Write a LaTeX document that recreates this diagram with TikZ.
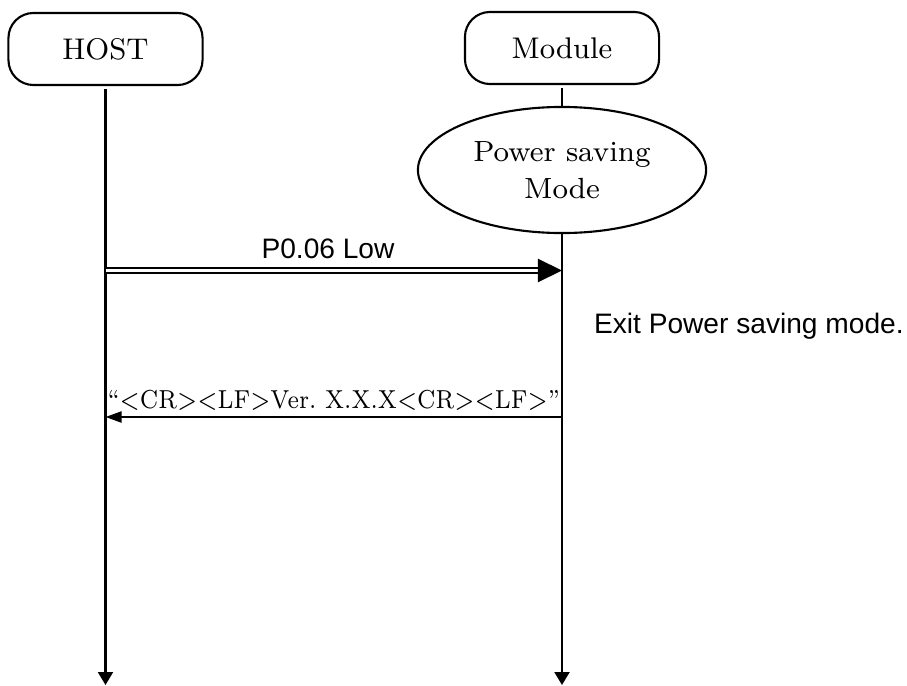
\documentclass[tikz,border=0pt]{standalone}
\usepackage{fontspec}
\newfontfamily\msgfont{Liberation Sans}
\usetikzlibrary{arrows.meta,shapes.geometric}

\begin{document}
\begin{tikzpicture}[x=0.01cm,y=-0.01cm,line width=0.6pt,
  entity/.style={draw,rounded corners=0.25cm,minimum width=1.94cm,minimum height=0.72cm,inner sep=0pt,font=\fontsize{8.5}{10}\selectfont},
  state/.style={draw,ellipse,minimum width=2.88cm,minimum height=1.26cm,inner sep=0pt,align=center,font=\fontsize{8.3}{10.5}\selectfont},
  life/.style={-{Triangle[length=0.13cm,width=0.15cm]}},
  msg/.style={font=\msgfont\fontsize{8}{9.6}\selectfont,inner sep=0pt}]
  \useasboundingbox (0,0) rectangle (907,685);
  \node[entity] (host) at (105.5,49) {HOST};
  \node[entity] (module) at (562,48) {Module};
  \node[state] (psm) at (562,170) {Power saving\\Mode};
  \coordinate (hostend) at (105.5,685);
  \coordinate (modend) at (562,685);
  \coordinate (h1) at (105.5,270.5);
  \coordinate (m1) at (562,270.5);
  \coordinate (h2) at (105.5,417);
  \coordinate (m2) at (562,417);
  \draw[life,shorten <=0.03cm] (host.south) -- (hostend);
  \draw[shorten <=0.03cm] (module.south) -- (psm.north);
  \draw[life] (psm.south) -- (modend);
  \draw[double,double distance=0.03cm,line width=0.02cm,-{Triangle[length=0.24cm,width=0.23cm]}] (h1) -- (m1);
  \node[msg,anchor=base] (lowlbl) at (328,258) {P0.06 Low};
  \node[msg,anchor=base west] (exitlbl) at (593,333) {Exit Power saving mode.};
  \draw[-{Triangle[length=0.16cm,width=0.11cm]}] (m2) -- (h2);
  \node[anchor=base,inner sep=0pt,font=\fontsize{7.4}{8.6}\selectfont\frenchspacing] (verlbl) at (333.75,408) {\scalebox{0.87}[1]{“<CR><LF>Ver. X.X.X<CR><LF>”}};
\end{tikzpicture}
\end{document}
